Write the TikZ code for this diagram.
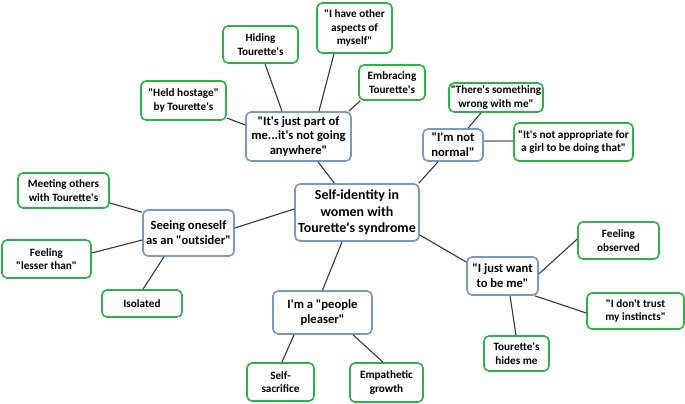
\documentclass[tikz,border=0pt]{standalone}
\usepackage{fontspec}
\setmainfont{Carlito}[Ligatures=TeXOff]
\definecolor{bboxc}{RGB}{120,152,200}
\definecolor{gboxc}{RGB}{45,178,72}
\definecolor{linec}{RGB}{55,55,55}
\definecolor{grayline}{RGB}{150,150,150}
\begin{document}
\begin{tikzpicture}[x=1pt,y=-1pt,
  box/.style={draw,rounded corners=5pt,line width=1.6pt,fill=white,align=center,inner sep=0pt,font=\bfseries},
  gbox/.style={box,draw=gboxc,font=\fontsize{11.2}{13.6}\selectfont\bfseries},
  bbox/.style={box,draw=bboxc,font=\fontsize{12.6}{14.8}\selectfont\bfseries},
  cbox/.style={box,draw=bboxc,font=\fontsize{13.9}{16.7}\selectfont\bfseries},
  conn/.style={draw=linec,line width=1.1pt},
  gconn/.style={draw=grayline,line width=2.2pt}]
\useasboundingbox (0,0) rectangle (685,404);
\node[cbox,minimum width=124pt,minimum height=57pt] (center) at (357,212.5) {Self-identity in\\women with\\Tourette's syndrome};
\node[bbox,minimum width=105pt,minimum height=49pt] (part) at (298.5,136.5) {"It's just part of\\me...it's not going\\anywhere"};
\node[gbox,minimum width=75pt,minimum height=37pt] (hiding) at (260.5,44.5) {Hiding\\Tourette's};
\node[gbox,minimum width=75pt,minimum height=50pt] (aspects) at (354.5,28) {"I have other\\aspects of\\myself"};
\node[gbox,minimum width=66pt,minimum height=35pt] (embrace) at (392,82.5) {Embracing\\Tourette's};
\node[gbox,minimum width=85pt,minimum height=39pt] (hostage) at (183.5,100.5) {"Held hostage"\\by Tourette's};
\node[gbox,minimum width=94pt,minimum height=29pt] (wrong) at (496,97.5) {"There's something\\wrong with me"};
\node[bbox,minimum width=60pt,minimum height=32pt] (normal) at (453,145) {"I'm not\\normal"};
\node[gbox,minimum width=119pt,minimum height=38pt] (approp) at (573.5,142) {"It's not appropriate for\\a girl to be doing that"};
\node[gbox,minimum width=91pt,minimum height=35pt] (meeting) at (63.5,190.5) {Meeting others\\with Tourette's};
\node[bbox,minimum width=91pt,minimum height=46pt] (outsider) at (188.5,233) {Seeing oneself\\as an "outsider"};
\node[gbox,minimum width=89pt,minimum height=38pt] (lesser) at (46.5,259) {Feeling\\"lesser than"};
\node[gbox,minimum width=80pt,minimum height=27pt] (isolated) at (142,303.5) {Isolated};
\node[bbox,minimum width=99pt,minimum height=43pt] (pleaser) at (322.5,312.5) {I'm a "people\\pleaser"};
\node[gbox,minimum width=67pt,minimum height=38pt] (sacrifice) at (280.5,382) {Self-\\sacrifice};
\node[gbox,minimum width=73pt,minimum height=39pt] (empath) at (386.5,382.5) {Empathetic\\growth};
\node[bbox,minimum width=71pt,minimum height=38pt] (bme) at (502.5,276) {"I just want\\to be me"};
\node[gbox,minimum width=81pt,minimum height=37pt] (observed) at (618.5,240.5) {Feeling\\observed};
\node[gbox,minimum width=97pt,minimum height=36pt] (instincts) at (635.5,311) {"I don't trust\\my instincts"};
\node[gbox,minimum width=65pt,minimum height=35pt] (hides) at (516.5,353.5) {Tourette's\\hides me};
% connectors
\draw[conn] (center) -- (part);
\draw[conn] ([xshift=-16.5pt]part.north) -- ([xshift=4.5pt]hiding.south);
\draw[conn] ([xshift=20.5pt]part.north) -- ([xshift=-20.5pt]aspects.south);
\draw[conn] ([xshift=-3pt]part.north east) -- ([xshift=2pt]embrace.south west);
\draw[conn] ([yshift=11.5pt]part.west) -- ([yshift=-17.5pt]hostage.east);
\draw[conn] ([xshift=-1pt]center.north east) -- ([xshift=-15pt]normal.south);
\draw[conn] ([xshift=15pt]normal.north) -- ([xshift=-15pt]wrong.south);
\draw[gconn] ([yshift=4pt]normal.east) -- ([yshift=1pt]approp.west);
\draw[conn] ([yshift=3.5pt]center.west) -- ([yshift=5pt]outsider.east);
\draw[conn] ([yshift=-12.5pt]meeting.east) -- ([yshift=-3pt]outsider.north west);
\draw[conn] ([yshift=6pt]lesser.east) -- ([yshift=-7pt]outsider.west);
\draw[conn] ([xshift=1pt]isolated.north) -- ([xshift=-24.5pt]outsider.south);
\draw[conn] ([xshift=-15pt]center.south) -- (pleaser.north);
\draw[conn] ([xshift=-28.5pt]pleaser.south) -- ([xshift=1.5pt]sacrifice.north);
\draw[conn] ([xshift=30.5pt]pleaser.south) -- ([xshift=-3.5pt]empath.north);
\draw[conn] ([yshift=-22.5pt]center.east) -- ([yshift=14pt]bme.west);
\draw[conn] ([yshift=2pt]bme.east) -- ([yshift=1.5pt]observed.west);
\draw[conn] ([xshift=-4pt]bme.south east) -- ([yshift=-2pt]instincts.west);
\draw[conn] ([xshift=7.5pt]bme.south) -- ([xshift=-0.5pt]hides.north);
\end{tikzpicture}
\end{document}
